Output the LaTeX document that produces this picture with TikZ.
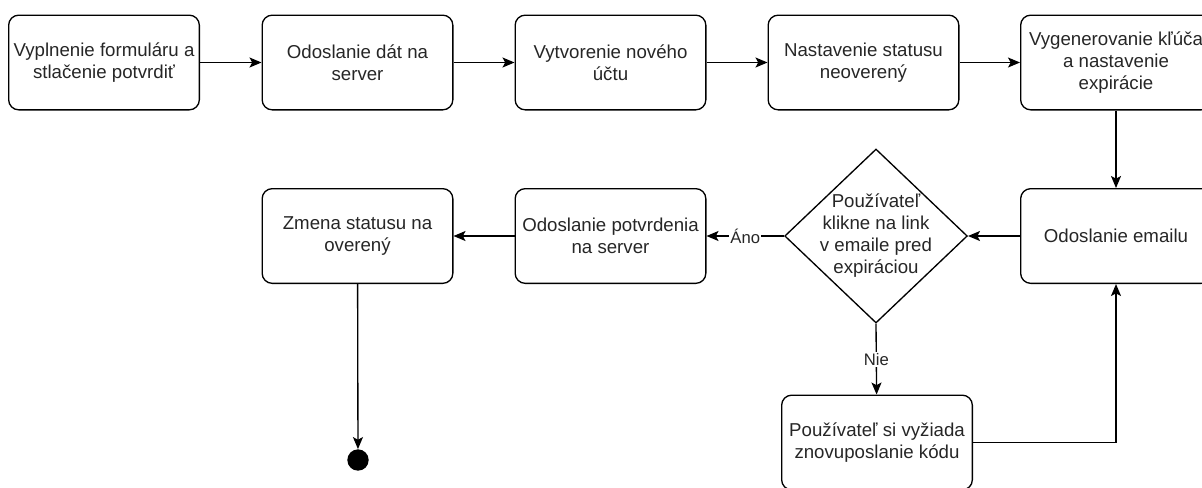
\documentclass[tikz,border=0pt]{standalone}
\usepackage{fontspec}
\setmainfont{Liberation Sans}
\usetikzlibrary{arrows.meta,shapes.geometric}

\tikzset{
  stepbox/.style={draw, rounded corners=7.5pt, line width=1pt, minimum width=143pt,
    minimum height=71pt, align=center, inner sep=0pt, text=black!85,
    font=\fontsize{14}{16.5}\selectfont},
  flow/.style={-{Stealth[length=9pt,width=7.5pt,inset=2pt]}, line width=1pt},
  flowlabel/.style={fill=white, inner sep=1pt, text=black!85, font=\fontsize{12.5}{14}\selectfont},
}

\begin{document}
\begin{tikzpicture}[x=0.75pt, y=-0.75pt] % 1 unit = 1 px of the drawing, y downwards
    \useasboundingbox (0, 0) rectangle (1202, 487);

    % Top row
    \node[stepbox] (fill)   at (104, 62.5)  {Vyplnenie formuláru a\\stlačenie potvrdiť};
    \node[stepbox] (send)   at (357.5, 62.5) {Odoslanie dát na\\server};
    \node[stepbox] (create) at (610.5, 62.5) {Vytvorenie nového\\účtu};
    \node[stepbox] (status) at (863.5, 62.5) {Nastavenie statusu\\neoverený};
    \node[stepbox] (key)    at (1116, 62.5)  {Vygenerovanie kľúča\\a nastavenie\\expirácie};

    % Second row
    \node[stepbox] (email)   at (1116, 236)  {Odoslanie emailu};
    \node[diamond, draw, line width=1pt, minimum width=137pt, minimum height=130.5pt,
          inner sep=0pt] (click) at (876, 236) {};
    \node[align=center, text=black!85, font=\fontsize{14}{16.5}\selectfont] (clicktext) at (876, 236)
          {Používateľ\\klikne na link\\v emaile pred\\expiráciou};
    \node[stepbox] (confirm) at (610.5, 236) {Odoslanie potvrdenia\\na server};
    \node[stepbox] (verified) at (357.5, 236) {Zmena statusu na\\overený};

    % Bottom row
    \node[stepbox] (resend) at (877, 442.5) {Používateľ si vyžiada\\znovuposlanie kódu};
    \node[circle, fill=black, minimum size=16pt, inner sep=0pt] (done) at (358, 460) {};

    % Connectors
    \draw[flow] (fill) -- (send);
    \draw[flow] (send) -- (create);
    \draw[flow] (create) -- (status);
    \draw[flow] (status) -- (key);
    \draw[flow] (key) -- (email);
    \draw[flow] (email) -- (click.east);
    \draw[flow] (click.west) -- (confirm) node[midway, flowlabel] {Áno};
    \draw[flow] (click.south) -- (resend) node[midway, flowlabel] {Nie};
    \draw[flow] (resend.east) -| (email.south);
    \draw[flow] (confirm) -- (verified);
    \draw[flow] (verified) -- (done);
\end{tikzpicture}
\end{document}
